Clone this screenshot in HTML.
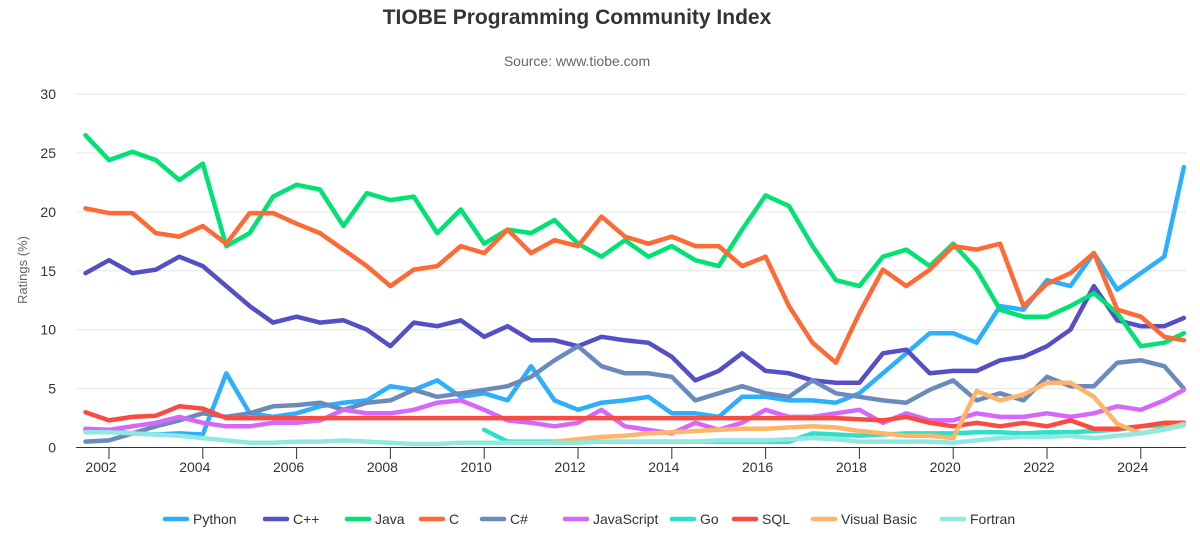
<!DOCTYPE html>
<html><head><meta charset="utf-8">
<style>
html,body{margin:0;padding:0;background:#fff;width:1200px;height:546px;overflow:hidden;font-family:"Liberation Sans",sans-serif;}
svg{display:block}
</style></head>
<body>
<svg id="chart" width="1200" height="546">
  <text x="577" y="24" text-anchor="middle" font-size="21" font-weight="bold" fill="#333">TIOBE Programming Community Index</text>
  <text x="577" y="66" text-anchor="middle" font-size="14" fill="#666">Source: www.tiobe.com</text>
  <text transform="translate(27,270) rotate(-90)" text-anchor="middle" font-size="13" fill="#666">Ratings (%)</text>
  <g id="grid"></g><g id="series"></g><g id="legend"></g>
</svg>
<script>
const years=[2001.5,2002,2002.5,2003,2003.5,2004,2004.5,2005,2005.5,2006,2006.5,2007,2007.5,2008,2008.5,2009,2009.5,2010,2010.5,2011,2011.5,2012,2012.5,2013,2013.5,2014,2014.5,2015,2015.5,2016,2016.5,2017,2017.5,2018,2018.5,2019,2019.5,2020,2020.5,2021,2021.5,2022,2022.5,2023,2023.5,2024,2024.5,2024.92];
const yTicks=[0,5,10,15,20,25,30];
const xTicks=[2002,2004,2006,2008,2010,2012,2014,2016,2018,2020,2022,2024];
const seriesNames=["Python","C++","Java","C","C#","JavaScript","Go","SQL","Visual Basic","Fortran"];
const python=[1.5,1.4,1.2,1.1,1.2,1.1,6.3,2.9,2.6,2.9,3.5,3.8,4.0,5.2,4.9,5.7,4.3,4.6,4.0,6.9,4.0,3.2,3.8,4.0,4.3,2.9,2.9,2.6,4.3,4.3,4.0,4.0,3.8,4.6,6.3,8.0,9.7,9.7,8.9,12.0,11.7,14.2,13.7,16.5,13.4,14.8,16.2,23.8];
const cpp=[14.8,15.9,14.8,15.1,16.2,15.4,13.7,12.0,10.6,11.1,10.6,10.8,10.0,8.6,10.6,10.3,10.8,9.4,10.3,9.1,9.1,8.6,9.4,9.1,8.9,7.7,5.7,6.5,8.0,6.5,6.3,5.7,5.5,5.5,8.0,8.3,6.3,6.5,6.5,7.4,7.7,8.6,10.0,13.7,10.8,10.3,10.3,11.0];
const java=[26.5,24.4,25.1,24.4,22.7,24.1,17.1,18.2,21.3,22.3,21.9,18.8,21.6,21.0,21.3,18.2,20.2,17.3,18.5,18.2,19.3,17.3,16.2,17.6,16.2,17.1,15.9,15.4,18.5,21.4,20.5,17.1,14.2,13.7,16.2,16.8,15.4,17.3,15.1,11.7,11.1,11.1,12.0,13.1,11.4,8.6,8.9,9.7];
const cLang=[20.3,19.9,19.9,18.2,17.9,18.8,17.3,19.9,19.9,19.0,18.2,16.8,15.4,13.7,15.1,15.4,17.1,16.5,18.5,16.5,17.6,17.1,19.6,17.9,17.3,17.9,17.1,17.1,15.4,16.2,12.0,8.9,7.2,11.4,15.1,13.7,15.1,17.1,16.8,17.3,12.0,13.9,14.8,16.5,11.7,11.1,9.4,9.1];
const csharp=[0.5,0.6,1.2,1.8,2.3,2.9,2.6,2.9,3.5,3.6,3.8,3.2,3.8,4.0,4.9,4.3,4.6,4.9,5.2,6.0,7.4,8.6,6.9,6.3,6.3,6.0,4.0,4.6,5.2,4.6,4.3,5.7,4.6,4.3,4.0,3.8,4.9,5.7,4.0,4.6,4.0,6.0,5.2,5.2,7.2,7.4,6.9,5.0];
const javascript=[1.6,1.5,1.8,2.1,2.6,2.1,1.8,1.8,2.1,2.1,2.3,3.2,2.9,2.9,3.2,3.8,4.0,3.2,2.3,2.1,1.8,2.1,3.2,1.8,1.5,1.2,2.1,1.5,2.1,3.2,2.6,2.6,2.9,3.2,2.1,2.9,2.3,2.3,2.9,2.6,2.6,2.9,2.6,2.9,3.5,3.2,4.0,4.9];
const go=[null,null,null,null,null,null,null,null,null,null,null,null,null,null,null,null,null,1.5,0.5,0.5,0.5,0.5,0.5,0.5,0.5,0.5,0.5,0.5,0.5,0.5,0.5,1.2,1.1,1.0,1.1,1.2,1.2,1.2,1.3,1.3,1.2,1.3,1.3,1.4,1.5,1.8,1.9,2.0];
const sql=[3.0,2.3,2.6,2.7,3.5,3.3,2.5,2.5,2.5,2.5,2.5,2.5,2.5,2.5,2.5,2.5,2.5,2.5,2.5,2.5,2.5,2.5,2.5,2.5,2.5,2.5,2.5,2.5,2.5,2.5,2.5,2.5,2.5,2.4,2.3,2.6,2.1,1.8,2.1,1.8,2.1,1.8,2.3,1.6,1.6,1.8,2.1,2.1];
const visualBasic=[null,null,null,null,null,null,null,null,null,null,null,null,null,null,null,null,null,null,null,null,0.5,0.7,0.9,1.0,1.2,1.3,1.4,1.5,1.6,1.6,1.7,1.8,1.7,1.4,1.2,1.0,1.0,0.8,4.8,4.0,4.5,5.5,5.5,4.3,2.0,1.2,1.6,2.0];
const fortran=[1.3,1.3,1.2,1.1,1.0,0.8,0.6,0.4,0.4,0.5,0.5,0.6,0.5,0.4,0.3,0.3,0.4,0.4,0.4,0.4,0.4,0.4,0.5,0.5,0.5,0.5,0.5,0.6,0.6,0.6,0.7,0.8,0.7,0.5,0.5,0.5,0.5,0.4,0.6,0.8,0.9,0.9,1.0,0.8,1.0,1.2,1.5,1.9];

const allSeries=[python,cpp,java,cLang,csharp,javascript,go,sql,visualBasic,fortran];
const colors=["#2caffe","#544fc5","#00e272","#fe6a35","#6b8abc","#d568fb","#2ee0ca","#fa4b42","#feb56a","#91e8e1"];
const NS="http://www.w3.org/2000/svg";
const X0=76,X1=1186;
function xs(t){return 109+(t-2002)*46.9;}
function ys(v){return 447.5-v*11.78;}
function mk(tag,attrs,parent){const e=document.createElementNS(NS,tag);for(const k in attrs)e.setAttribute(k,attrs[k]);parent.appendChild(e);return e;}
const grid=document.getElementById('grid');
yTicks.forEach(v=>{
  if(v>0){const g=mk('line',{x1:X0,x2:X1,y1:ys(v),y2:ys(v),stroke:'#e6e6e6','stroke-width':1},grid);
  
  }
  const t=mk('text',{x:56,y:ys(v)+5,'text-anchor':'end','font-size':14,fill:'#333'},grid);
  t.textContent=v;
  
  
});
const ax=mk('line',{x1:X0,x2:X1,y1:447.5,y2:447.5,stroke:'#333','stroke-width':1},grid);


xTicks.forEach(yr=>{
  const tk=mk('line',{x1:xs(yr),x2:xs(yr),y1:447.5,y2:459,stroke:'#333','stroke-width':1},grid);
  
  
  const t=mk('text',{x:xs(yr)-8,y:472,'text-anchor':'middle','font-size':14,fill:'#333'},grid);
  t.textContent=yr;
  
  
});
const sg=document.getElementById('series');
allSeries.forEach((arr,i)=>{
  let d='',pen=false;
  arr.forEach((v,j)=>{
    if(v===null){pen=false;return;}
    d+=(pen?'L':'M')+xs(years[j]).toFixed(1)+' '+ys(v).toFixed(1)+' ';pen=true;
  });
  const p=mk('path',{d:d,fill:'none',stroke:colors[i],'stroke-width':4.5,'stroke-linejoin':'round','stroke-linecap':'round'},sg);
  
  
});
const lg=document.getElementById('legend');
const legX=[165,265,347,421,482,565,672,734,813,942];
seriesNames.forEach((n,i)=>{
  const g=mk('g',{},lg);
  
  
  mk('line',{x1:legX[i],x2:legX[i]+22,y1:519,y2:519,stroke:colors[i],'stroke-width':4.5,'stroke-linecap':'round'},g);
  const t=mk('text',{x:legX[i]+28,y:524,'font-size':14,fill:'#333'},g);
  t.textContent=n;
});
</script>
</body></html>
